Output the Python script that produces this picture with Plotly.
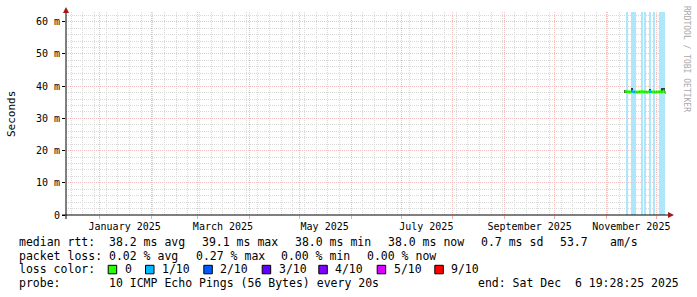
import plotly.graph_objects as go
from datetime import datetime, timedelta

# ---------------- data ----------------
range_start = "2024-12-11 19:28:25"
range_end = "2025-12-06 19:28:25"

day_starts = ["2025-11-12", "2025-11-13", "2025-11-14", "2025-11-15", "2025-11-16",
              "2025-11-17", "2025-11-18", "2025-11-19", "2025-11-20", "2025-11-21",
              "2025-11-22", "2025-11-23", "2025-11-24", "2025-11-25", "2025-11-26",
              "2025-11-27", "2025-11-28", "2025-11-29", "2025-11-30", "2025-12-01",
              "2025-12-02", "2025-12-03", "2025-12-04", "2025-12-05", "2025-12-06"]
median_ms = [38.4, 38.3, 38.2, 38.2, 38.3, 38.2, 38.2, 38.1, 38.2, 38.2,
             38.3, 38.2, 38.2, 38.1, 38.2, 38.3, 38.2, 38.2, 38.1, 38.2,
             38.2, 38.3, 38.2, 38.4, 38.0]
loss_per10 = [0.0, 0.1, 0.0, 0.0, 0.6, 0.5, 0.2, 0.0, 0.0, 0.0,
              0.1, 0.0, 0.1, 0.0, 0.0, 0.5, 0.0, 0.1, 0.0, 0.0,
              0.0, 0.2, 0.1, 0.2, 0.0]
smoke_lo = [38.0, 38.1, 38.1, 38.1, 38.1, 38.1, 38.1, 38.0, 38.1, 38.1,
            38.2, 38.1, 38.1, 38.0, 38.1, 38.1, 38.1, 38.1, 38.0, 38.1,
            38.1, 38.2, 37.9, 38.1, 37.9]
smoke_hi = [38.9, 38.4, 38.3, 38.3, 39.3, 38.3, 38.3, 38.2, 38.3, 38.3,
            38.4, 38.3, 38.3, 38.2, 38.3, 39.1, 38.3, 38.3, 38.2, 38.3,
            38.3, 38.4, 39.5, 39.3, 38.1]

y_tick_vals = [0, 10, 20, 30, 40, 50, 60]
y_tick_text = ["0", "10 m", "20 m", "30 m", "40 m", "50 m", "60 m"]
month_grid = ["2025-01-01", "2025-02-01", "2025-03-01", "2025-04-01", "2025-05-01",
              "2025-06-01", "2025-07-01", "2025-08-01", "2025-09-01", "2025-10-01",
              "2025-11-01", "2025-12-01"]
x_label_vals = ["2025-01-16", "2025-03-16", "2025-05-16", "2025-07-16",
                "2025-09-16", "2025-11-16"]
x_label_text = ["January 2025", "March 2025", "May 2025", "July 2025",
                "September 2025", "November 2025"]

loss_names = ["0", "1/10", "2/10", "3/10", "4/10", "5/10", "9/10"]
loss_colors = ["#26ff00", "#00b8ff", "#0059ff", "#5e00ff", "#7e00ff", "#dd00ff", "#ff0000"]

Y_MAX = 63.0
MONO = "DejaVu Sans Mono"

# ---------------- geometry helpers ----------------
W, H = 697, 297
L, R, T, B = 66, 666, 12, 215
PW, PH = R - L, B - T


def px(x):
    return (x - L) / PW


def py(y):
    return (B - y) / PH


DAY = timedelta(days=1)
starts = [datetime.fromisoformat(d) for d in day_starts]
centers = [s + DAY / 2 for s in starts]

fig = go.Figure()

# loss background bands
band_x = [c for c, l in zip(centers, loss_per10) if l > 0]
fig.add_trace(go.Bar(x=band_x, y=[Y_MAX] * len(band_x), base=0,
                     width=86400000 * 0.8, marker=dict(color="#aee6fb", line=dict(width=0)),
                     showlegend=False, hoverinfo="skip"))

# smoke
fig.add_trace(go.Bar(x=centers, y=[h - l for h, l in zip(smoke_hi, smoke_lo)], base=smoke_lo,
                     width=86400000 * 0.8, marker=dict(color="#3c3c3c", line=dict(width=0)),
                     showlegend=False, hoverinfo="skip"))

# median line, coloured by loss
gx, gy, bx, by = [], [], [], []
for s, m, l in zip(starts, median_ms, loss_per10):
    if l >= 0.5:
        bx += [s, s + DAY, None]
        by += [m, m, None]
    else:
        gx += [s, s + DAY, None]
        gy += [m, m, None]
fig.add_trace(go.Scatter(x=gx, y=gy, mode="lines", line=dict(color=loss_colors[0], width=3),
                         showlegend=False, hoverinfo="skip"))
fig.add_trace(go.Scatter(x=bx, y=by, mode="lines", line=dict(color=loss_colors[1], width=3),
                         showlegend=False, hoverinfo="skip"))

# dummy trace for the label axis
fig.add_trace(go.Scatter(x=[range_start, range_end], y=[None, None], xaxis="x2",
                         mode="lines", showlegend=False, hoverinfo="skip"))

fig.update_layout(
    width=W, height=H, autosize=False,
    margin=dict(l=L, r=W - R, t=T, b=H - B),
    paper_bgcolor="white", plot_bgcolor="white",
    barmode="overlay", bargap=0,
    showlegend=False,
    font=dict(family=MONO, size=10, color="#000000"),
    xaxis=dict(type="date", range=[range_start, range_end],
               tickmode="array", tickvals=month_grid, showticklabels=False,
               showgrid=True, gridcolor="#f3c0c0", griddash="1px,1px", gridwidth=1,
               ticks="outside", ticklen=3, tickcolor="#eab0b0",
               minor=dict(tick0="2024-12-15", dtick=604800000, showgrid=True,
                          gridcolor="#d8d8d8", griddash="1px,1px", ticks=""),
               showline=False, zeroline=False, fixedrange=True),
    xaxis2=dict(type="date", range=[range_start, range_end], overlaying="x", anchor="y",
                side="bottom", tickmode="array", tickvals=x_label_vals, ticktext=x_label_text,
                showgrid=False, ticks="", showline=False, zeroline=False,
                ticklabelstandoff=4,
                tickfont=dict(family=MONO, size=10, color="#000000")),
    yaxis=dict(range=[0, Y_MAX], tickmode="array", tickvals=y_tick_vals, ticktext=y_tick_text,
               showgrid=True, gridcolor="#f3c0c0", griddash="1px,1px",
               minor=dict(dtick=2, showgrid=True, gridcolor="#d8d8d8", griddash="1px,1px", ticks=""),
               ticks="outside", ticklen=3, tickcolor="#000000",
               tickfont=dict(family=MONO, size=10, color="#000000"),
               showline=False, zeroline=False, fixedrange=True),
)

shapes = []
# axes
shapes.append(dict(type="line", xref="paper", yref="paper", x0=px(62), x1=px(668), y0=py(215), y1=py(215),
                   line=dict(color="#000000", width=1)))
shapes.append(dict(type="line", xref="paper", yref="paper", x0=px(66), x1=px(66), y0=py(219), y1=py(12),
                   line=dict(color="#000000", width=1)))
# arrows
shapes.append(dict(type="path", xref="paper", yref="paper",
                   path=f"M {px(66)},{py(7)} L {px(63)},{py(13)} L {px(69)},{py(13)} Z",
                   fillcolor="#a01818", line=dict(width=0)))
shapes.append(dict(type="path", xref="paper", yref="paper",
                   path=f"M {px(674)},{py(215)} L {px(668)},{py(212)} L {px(668)},{py(218)} Z",
                   fillcolor="#a01818", line=dict(width=0)))

annotations = []


def text(x, y, s, size=11.5, color="#000000", xanchor="left", angle=0, family=MONO):
    annotations.append(dict(xref="paper", yref="paper", x=px(x), y=py(y), text=s,
                            showarrow=False, xanchor=xanchor, yanchor="middle",
                            textangle=angle, font=dict(family=family, size=size, color=color)))


NB = "\u00a0"
# legend line 1
y1 = 241.5
text(16.5, y1, "median" + NB + "rtt:")
text(107.3, y1, "38.2 ms avg")
text(200, y1, "39.1 ms max")
text(292.7, y1, "38.0 ms min")
text(386, y1, "38.0 ms now")
text(479.3, y1, "0.7 ms sd")
text(558.3, y1, "53.7")
text(607.7, y1, "am/s")
# legend line 2
y2 = 255.5
text(16.5, y2, "packet" + NB + "loss:")
text(107.3, y2, "0.02 % avg")
text(194.3, y2, "0.27 % max")
text(279.3, y2, "0.00 % min")
text(365, y2, "0.00 % now")
# legend line 3
y3 = 269.3
text(16.5, y3, "loss" + NB + "color:")
label_x = [122.7, 160, 218.3, 276.7, 333.3, 391.7, 449.3]
for lx, name, col in zip(label_x, loss_names, loss_colors):
    shapes.append(dict(type="rect", xref="paper", yref="paper",
                       x0=px(lx - 14.5), x1=px(lx - 6), y0=py(y3 + 4.5), y1=py(y3 - 4),
                       fillcolor=col, line=dict(color="#000000", width=1)))
    text(lx, y3, name)
# legend line 4
y4 = 283.3
text(16.5, y4, "probe:")
text(107.3, y4, "10 ICMP Echo Pings (56 Bytes) every 20s")
text(680.5, y4, "end: Sat Dec" + NB + NB + "6 19:28:25 2025", xanchor="right")

# y axis title and watermark
text(11, 114, "Seconds", size=11, angle=-90, xanchor="center")
text(687, 59, "RRDTOOL / TOBI OETIKER", size=8, color="#a8a8a8", angle=90, xanchor="center")

fig.update_layout(shapes=shapes, annotations=annotations)

fig.write_html("out.html")
